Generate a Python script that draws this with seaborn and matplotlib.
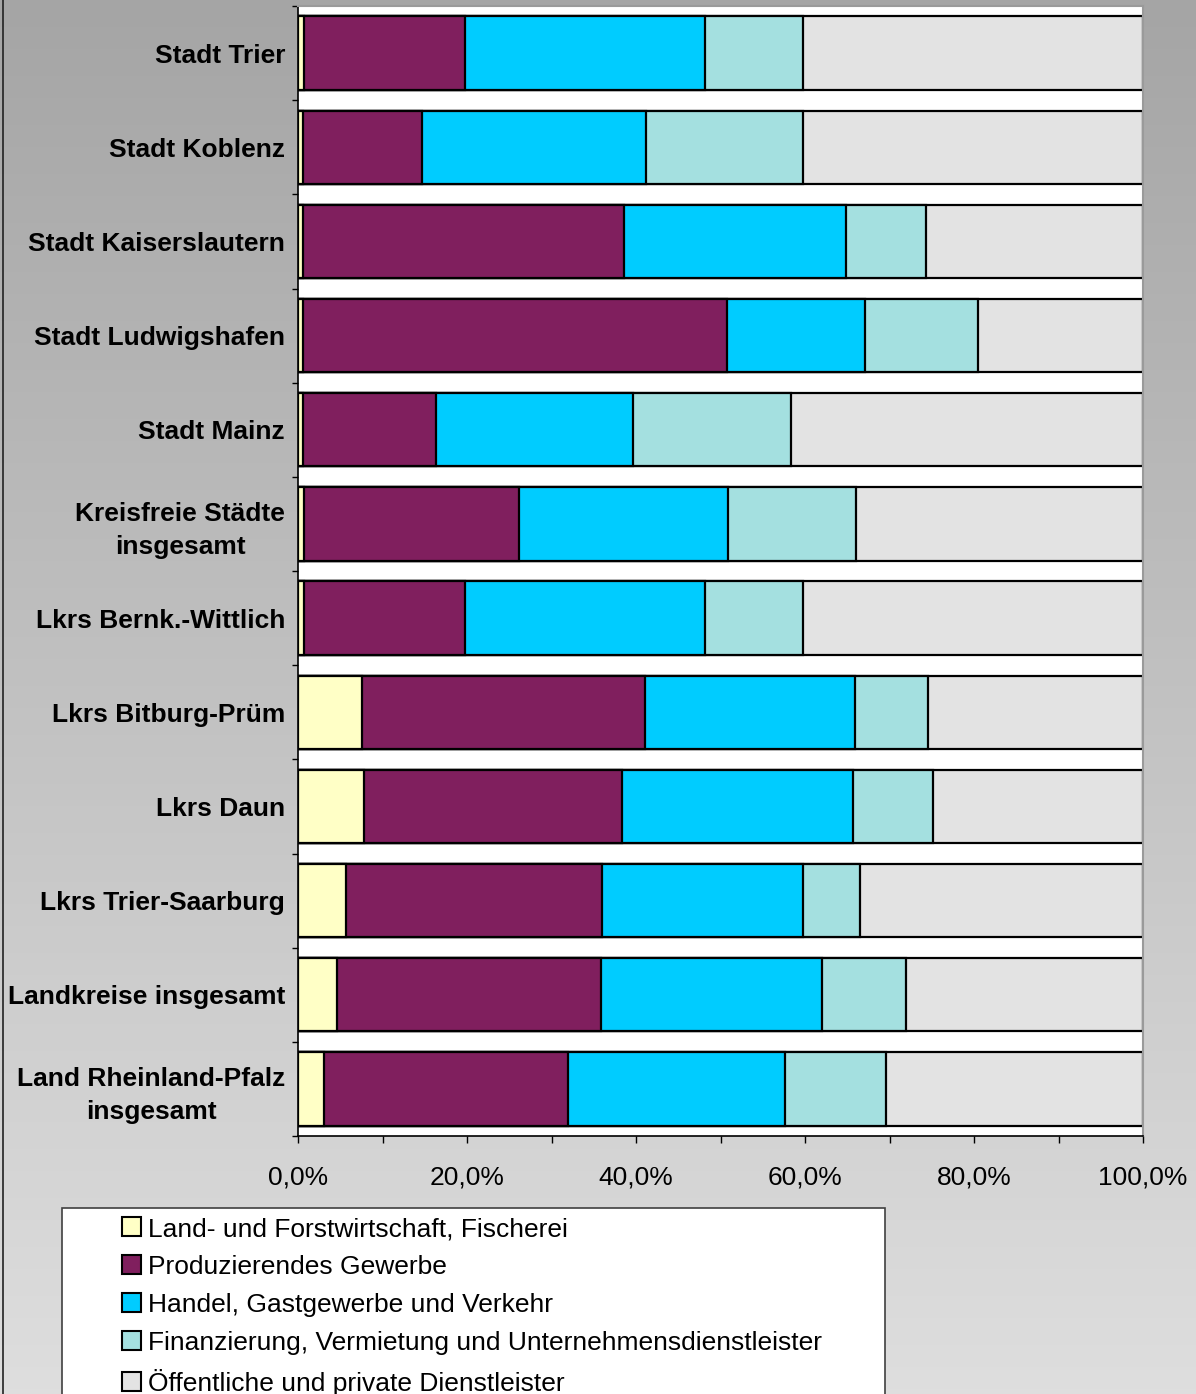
import numpy as np
import pandas as pd
import matplotlib
matplotlib.use("Agg")
import matplotlib.pyplot as plt
import seaborn as sns
from matplotlib.patches import Patch, Rectangle
from matplotlib.lines import Line2D
from matplotlib.colors import LinearSegmentedColormap
from matplotlib.ticker import FuncFormatter, MultipleLocator, FixedLocator

# ---------------- data ----------------
regions = [
    "Stadt Trier",
    "Stadt Koblenz",
    "Stadt Kaiserslautern",
    "Stadt Ludwigshafen",
    "Stadt Mainz",
    "Kreisfreie Städte\ninsgesamt",
    "Lkrs Bernk.-Wittlich",
    "Lkrs Bitburg-Prüm",
    "Lkrs Daun",
    "Lkrs Trier-Saarburg",
    "Landkreise insgesamt",
    "Land Rheinland-Pfalz\ninsgesamt",
]
sectors = [
    "Land- und Forstwirtschaft, Fischerei",
    "Produzierendes Gewerbe",
    "Handel, Gastgewerbe und Verkehr",
    "Finanzierung, Vermietung und Unternehmensdienstleister",
    "Öffentliche und private Dienstleister",
]
land_forst   = [0.7, 0.5, 0.5, 0.5, 0.5, 0.7, 0.7, 7.5, 7.8, 5.7, 4.6, 3.1]
produzierend = [19.0, 14.1, 38.1, 50.3, 15.8, 25.4, 19.0, 33.5, 30.5, 30.2, 31.2, 28.8]
handel       = [28.4, 26.6, 26.2, 16.3, 23.3, 24.8, 28.4, 24.9, 27.4, 23.8, 26.2, 25.7]
finanz       = [11.7, 18.5, 9.5, 13.4, 18.7, 15.1, 11.7, 8.6, 9.4, 6.8, 9.9, 12.0]
oeffentlich  = [40.2, 40.3, 25.7, 19.5, 41.7, 34.0, 40.2, 25.5, 24.9, 33.5, 28.1, 30.4]
series = [land_forst, produzierend, handel, finanz, oeffentlich]
colors = ["#FFFFC6", "#801F5E", "#00CCFF", "#A4E0E0", "#E3E3E3"]
xticks_major = [0, 20, 40, 60, 80, 100]

# ---------------- style ----------------
sns.set_style("white")
plt.rcParams["font.family"] = ["Liberation Sans", "DejaVu Sans"]
plt.rcParams["text.color"] = "black"
plt.rcParams["xtick.color"] = "black"
plt.rcParams["ytick.color"] = "black"
plt.rcParams["axes.labelcolor"] = "black"

W, H = 1196, 1394
fig = plt.figure(figsize=(W / 100, H / 100), dpi=100)

# background gradient
bg = fig.add_axes([0, 0, 1, 1], zorder=-10)
cmap = LinearSegmentedColormap.from_list("bg", ["#A5A5A5", "#DEDEDE"])
bg.imshow(np.linspace(0, 1, 256).reshape(-1, 1), aspect="auto", cmap=cmap,
          extent=[0, 1, 0, 1], origin="upper")
bg.set_axis_off()

x0, x1 = 298.3, 1143
y_top, y_bot = 6, 1136
ax = fig.add_axes([x0 / W, 1 - y_bot / H, (x1 - x0) / W, (y_bot - y_top) / H])
ax.set_facecolor("white")

df = pd.DataFrame({"region": regions})
cum = np.cumsum(np.array(series), axis=0)
for i in range(len(series) - 1, -1, -1):
    df["val"] = cum[i]
    sns.barplot(data=df, x="val", y="region", orient="h", color=colors[i],
                saturation=1, width=0.78, edgecolor="black", linewidth=1.6,
                ax=ax, order=regions)

ax.set_xlim(0, 100)
ax.set_ylim(len(regions) - 0.5, -0.5)
ax.set_xlabel("")
ax.set_ylabel("")

ax.xaxis.set_major_locator(FixedLocator(xticks_major))
ax.xaxis.set_minor_locator(MultipleLocator(10))
ax.xaxis.set_major_formatter(FuncFormatter(lambda v, p: f"{v:.1f}%".replace(".", ",")))
ax.tick_params(axis="x", which="both", direction="out", length=5, width=1,
               color="black", bottom=True)
ax.tick_params(axis="x", which="major", labelsize=19, pad=16, labelcolor="black")

ax.yaxis.set_minor_locator(FixedLocator(np.arange(-0.5, len(regions), 1.0)))
ax.tick_params(axis="y", which="major", length=0, pad=9.5, labelsize=19,
               labelcolor="black")
ax.tick_params(axis="y", which="minor", direction="out", length=4.5, width=1,
               color="black", left=True)
for lab in ax.get_yticklabels():
    lab.set_fontweight("bold")
    lab.set_multialignment("center")
    lab.set_linespacing(1.45)

for s in ["left", "bottom"]:
    ax.spines[s].set_color("black")
    ax.spines[s].set_linewidth(1.2)
for s in ["top", "right"]:
    ax.spines[s].set_color("#9A9A9A")
    ax.spines[s].set_linewidth(1.5)

# left border line of chart area
fig.add_artist(Line2D([3.5 / W, 3.5 / W], [0, 1], transform=fig.transFigure,
                      color="#222222", linewidth=1.2))

# legend box
fig.add_artist(Rectangle((62 / W, -0.02), (885 - 62) / W, (H - 1208) / H + 0.02,
                         transform=fig.transFigure, facecolor="white",
                         edgecolor="#404040", linewidth=1.2, zorder=1))
handles = [Patch(facecolor=c, edgecolor="black", linewidth=1.5) for c in colors]
leg = fig.legend(handles, sectors, loc="upper left",
                 bbox_to_anchor=(122 / W, 1 - 1217 / H),
                 frameon=False, fontsize=19, handlelength=0.72, handleheight=0.72,
                 handletextpad=0.28, labelspacing=0.53, borderpad=0,
                 borderaxespad=0, labelcolor="black")
leg.set_zorder(5)

fig.savefig("out.png", dpi=100)
